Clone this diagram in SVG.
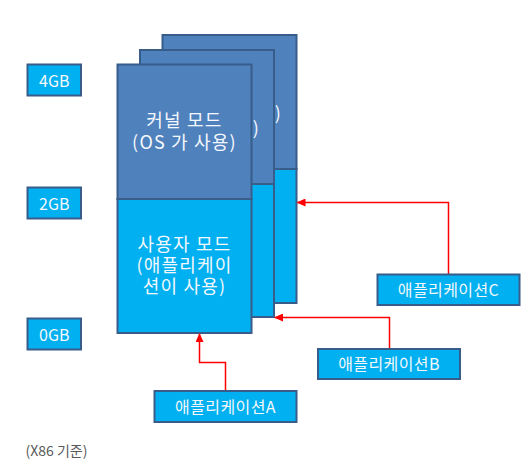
<svg xmlns="http://www.w3.org/2000/svg" width="530" height="476" viewBox="0 0 530 476">
<style>
.k{fill:#4f81bd;stroke:#385d8a;stroke-width:2}
.u{fill:#00b0f0;stroke:#385d8a;stroke-width:2}
.t{font-family:"Noto Sans CJK KR","Noto Sans",sans-serif;fill:#f4f8fc;text-anchor:middle}
.big{font-size:18px;letter-spacing:1.2px}
.sm{font-size:16px;letter-spacing:0.4px}
.gb{font-size:16px}
.w{stroke:#ff0000;stroke-width:1.5;fill:none}
.note{font-family:"Noto Sans CJK KR","Noto Sans",sans-serif;font-size:14px;fill:#595959}
</style>
<defs>
<marker id="ah" markerUnits="userSpaceOnUse" markerWidth="9" markerHeight="8" viewBox="0 0 9 8" refX="8" refY="4" orient="auto">
<path d="M0,0 L9,4 L0,8 z" fill="#ff0000"/>
</marker>
</defs>
<g id="gb4"><rect class="u" x="27.5" y="64.5" width="53.5" height="31"/><text class="t gb" x="54.25" y="86.5">4GB</text></g>
<g id="gb2"><rect class="u" x="27.5" y="187.5" width="53.5" height="31"/><text class="t gb" x="54.25" y="209.5">2GB</text></g>
<g id="gb0"><rect class="u" x="27.5" y="318.5" width="53.5" height="31"/><text class="t gb" x="54.25" y="340.5">0GB</text></g>
<g id="memC">
<rect class="k" x="162.5" y="35" width="134" height="134"/>
<rect class="u" x="162.5" y="169" width="134" height="134"/>
<text class="t big" x="278.5" y="119.5">)</text>
</g>
<g id="memB">
<rect class="k" x="140" y="50" width="134" height="134"/>
<rect class="u" x="140" y="184" width="134" height="133"/>
<text class="t big" x="256.5" y="134.5">)</text>
</g>
<g id="memA">
<rect class="k" x="117.5" y="64.5" width="134" height="134.5"/>
<rect class="u" x="117.5" y="199" width="134" height="134"/>
<text class="t big" x="184.5" y="127">커널 모드</text>
<text class="t big" x="184.5" y="149">(OS 가 사용)</text>
<text class="t big" x="184.5" y="251">사용자 모드</text>
<text class="t big" x="184.5" y="272">(애플리케이</text>
<text class="t big" x="184.5" y="293">션이 사용)</text>
</g>
<g id="connectors">
<path class="w" d="M448.5,274 V202.5 H297.5" marker-end="url(#ah)"/>
<path class="w" d="M389.5,349 V317.5 H275" marker-end="url(#ah)"/>
<path class="w" d="M225.5,391 V362.5 H199.5 V334" marker-end="url(#ah)"/>
</g>
<g id="appC"><rect class="u" x="377.5" y="274.5" width="142" height="30.5"/><text class="t sm" x="448.5" y="296">애플리케이션C</text></g>
<g id="appB"><rect class="u" x="318" y="349" width="142" height="30"/><text class="t sm" x="389" y="370">애플리케이션B</text></g>
<g id="appA"><rect class="u" x="154.5" y="391" width="142" height="31"/><text class="t sm" x="225.5" y="412.5">애플리케이션A</text></g>
<text class="note" x="25.5" y="456">(X86 기준)</text>
</svg>
